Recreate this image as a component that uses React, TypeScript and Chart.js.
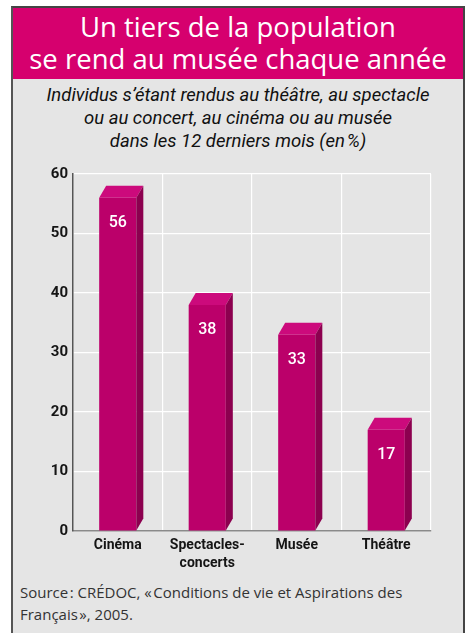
import React, { useEffect, useRef } from "react";
import { Chart, registerables } from "chart.js";

Chart.register(...registerables);

const titleLines = ["Un tiers de la population", "se rend au musée chaque année"];
const subtitleLines = [
  "Individus s’étant rendus au théâtre, au spectacle",
  "ou au concert, au cinéma ou au musée",
  "dans les 12 derniers mois (en\u200A%)",
];
const sourceLines = [
  "Source\u200A: CRÉDOC, «\u200AConditions de vie et Aspirations des",
  "Français\u200A», 2005.",
];
const categories: (string | string[])[] = ["Cinéma", ["Spectacles-", "concerts"], "Musée", "Théâtre"];
const values = [56, 38, 33, 17];
const yMin = 0;
const yMax = 60;
const yStep = 10;

const NARROW = "Roboto, 'Liberation Sans', sans-serif";
const TITLEFONT = "'Open Sans', 'Liberation Sans', sans-serif";

const FRONT = "#bb006a";
const TOP = "#cc0a7c";
const SIDE = "#8c004f";
const PINK = "#d6006e";
const BG = "#e5e5e5";

const DX = 7;
const DY = 12;

const bar3d = {
  id: "bar3d",
  afterDatasetsDraw(chart: any) {
    const ctx = chart.ctx;
    const meta = chart.getDatasetMeta(0);
    ctx.save();
    meta.data.forEach((el: any, i: number) => {
      const { x, y, base, width } = el.getProps(["x", "y", "base", "width"], true);
      const l = x - width / 2;
      const r = x + width / 2;
      ctx.fillStyle = TOP;
      ctx.beginPath();
      ctx.moveTo(l, y);
      ctx.lineTo(l + DX, y - DY);
      ctx.lineTo(r + DX, y - DY);
      ctx.lineTo(r, y);
      ctx.closePath();
      ctx.fill();
      ctx.fillStyle = SIDE;
      ctx.beginPath();
      ctx.moveTo(r, y);
      ctx.lineTo(r + DX, y - DY);
      ctx.lineTo(r + DX, base - DY);
      ctx.lineTo(r, base);
      ctx.closePath();
      ctx.fill();
      ctx.fillStyle = "#ffffff";
      ctx.font = `500 16px ${NARROW}`;
      ctx.textAlign = "center";
      ctx.textBaseline = "middle";
      ctx.fillText(String(values[i]), x, y + 25);
    });
    ctx.restore();
  },
};

function BarChart() {
  const ref = useRef<HTMLCanvasElement | null>(null);
  useEffect(() => {
    if (!ref.current) return;
    const chart = new Chart(ref.current, {
      type: "bar",
      data: {
        labels: categories as any,
        datasets: [
          {
            data: values,
            backgroundColor: FRONT,
            borderWidth: 0,
            categoryPercentage: 1,
            barPercentage: 0.415,
          },
        ],
      },
      options: {
        animation: false,
        responsive: false,
        devicePixelRatio: 1,
        layout: { padding: { left: 0, right: 34, top: 24, bottom: 0 } },
        plugins: {
          legend: { display: false },
          tooltip: { enabled: false },
          title: { display: false },
        },
        scales: {
          x: {
            offset: true,
            grid: { offset: true, color: "#ffffff", lineWidth: 1.2, drawTicks: false },
            border: { color: "#8a8a8a", width: 1.5 },
            ticks: {
              color: "#151515",
              padding: 6,
              font: { family: NARROW, size: 14, weight: "bold", lineHeight: 1.25 },
              maxRotation: 0,
              autoSkip: false,
            },
            afterFit(scale: any) {
              scale.height = 49;
            },
          },
          y: {
            min: yMin,
            max: yMax,
            grid: { color: "#ffffff", lineWidth: 1.2, drawTicks: false },
            border: { color: "#555555", width: 1.5 },
            ticks: {
              stepSize: yStep,
              color: "#151515",
              padding: 5,
              font: { family: NARROW, size: 15, weight: "bold" },
            },
            afterFit(scale: any) {
              scale.width = 73;
            },
          },
        },
      },
      plugins: [bar3d],
    });
    return () => chart.destroy();
  }, []);
  return <canvas ref={ref} width={465} height={430} style={{ width: 465, height: 430, display: "block" }} />;
}

export default function App() {
  return (
    <div style={{ position: "absolute", left: 0, top: 0, width: 465, height: 633, overflow: "hidden", background: "#ffffff" }}>
      <div
        style={{
          position: "absolute",
          left: 11,
          top: 6,
          width: 450,
          height: 700,
          background: BG,
          borderLeft: "2px solid #555",
          borderTop: "2px solid #444",
          borderRight: "2px solid #444",
        }}
      />
      <div
        style={{
          position: "absolute",
          left: 13,
          top: 8,
          width: 450,
          height: 71,
          background: PINK,
          color: "#fff",
          fontFamily: TITLEFONT,
          fontSize: 27.5,
          lineHeight: "32px",
          textAlign: "center",
          paddingTop: 3,
          boxSizing: "border-box",
        }}
      >
        {titleLines.map((t, i) => (
          <div key={i}>{t}</div>
        ))}
      </div>
      <div
        style={{
          position: "absolute",
          left: 13,
          top: 84,
          width: 450,
          color: "#111",
          fontFamily: NARROW,
          fontStyle: "italic",
          fontSize: 18.5,
          lineHeight: "23px",
          textAlign: "center",
        }}
      >
        {subtitleLines.map((t, i) => (
          <div key={i}>{t}</div>
        ))}
      </div>
      <div style={{ position: "absolute", left: 0, top: 150 }}>
        <BarChart />
      </div>
      <div
        style={{
          position: "absolute",
          left: 20,
          top: 581,
          color: "#333",
          fontFamily: TITLEFONT,
          fontSize: 15,
          lineHeight: "22px",
          whiteSpace: "nowrap",
        }}
      >
        {sourceLines.map((t, i) => (
          <div key={i}>{t}</div>
        ))}
      </div>
    </div>
  );
}
